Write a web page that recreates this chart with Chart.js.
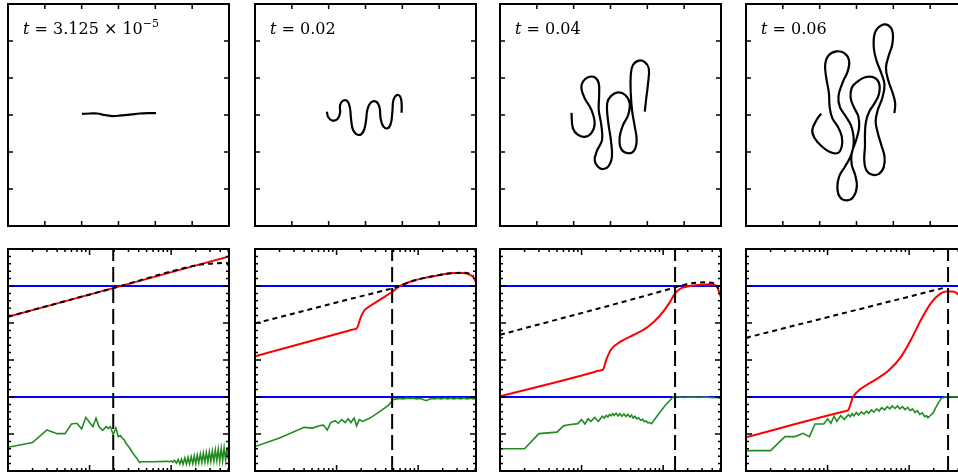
<!DOCTYPE html>
<html>
<head>
<meta charset="utf-8">
<script src="https://cdn.jsdelivr.net/npm/chart.js@4.4.0/dist/chart.umd.min.js"></script>
<style>
    body { margin: 0; width: 958px; height: 473px; overflow: hidden; background: #fff; position: relative; }
    .panel { position: absolute; }
    .lbl { position: absolute; font-family: "DejaVu Serif", serif; font-size: 16px; line-height: 16px; white-space: nowrap; color: #000; }
    .lbl sup { font-size: 11px; vertical-align: 7px; line-height: 0; }
</style>
</head>
<body>
<script>
"use strict";
// time stamps shown in the upper panels
const timeLabels = ['<i>t</i> = 3.125 × 10<sup>−5</sup>', '<i>t</i> = 0.02', '<i>t</i> = 0.04', '<i>t</i> = 0.06'];

// interface shapes (upper row), axis units 0..6
const shape1X = [2.01, 2.23, 2.42, 2.63, 2.85, 3.07, 3.31, 3.58, 3.80, 4.02];
const shape1Y = [3.03, 3.04, 3.04, 3.00, 2.97, 2.99, 3.01, 3.04, 3.05, 3.05];

const shape2X = [1.95, 1.99, 2.10, 2.24, 2.31, 2.31, 2.40, 2.52, 2.58, 2.61, 2.67, 2.81, 2.94, 3.01, 3.05, 3.14, 3.29, 3.38, 3.41, 3.48, 3.60, 3.69, 3.73, 3.76, 3.85, 3.94, 3.98, 3.98];
const shape2Y = [3.09, 2.94, 2.85, 2.89, 3.06, 3.27, 3.39, 3.36, 3.18, 2.87, 2.58, 2.46, 2.55, 2.82, 3.14, 3.33, 3.36, 3.21, 2.91, 2.70, 2.64, 2.78, 3.09, 3.41, 3.54, 3.50, 3.32, 3.06];

const shape3X = [1.94, 1.98, 2.12, 2.30, 2.48, 2.57, 2.48, 2.30, 2.21, 2.25, 2.39, 2.57, 2.68, 2.69, 2.68, 2.75, 2.77, 2.64, 2.57, 2.66,
    2.80, 2.95, 3.04, 3.01, 2.93, 2.91, 3.01, 3.20, 3.40, 3.52, 3.48, 3.34, 3.25, 3.28, 3.46, 3.64, 3.71, 3.66, 3.59, 3.55,
    3.55, 3.61, 3.77, 3.93, 4.04, 4.02, 3.97, 3.93];
const shape3Y = [3.06, 2.64, 2.46, 2.41, 2.51, 2.78, 3.14, 3.45, 3.72, 3.90, 4.02, 4.02, 3.86, 3.50, 3.14, 2.73, 2.32, 2.05, 1.78, 1.60,
    1.54, 1.62, 1.87, 2.32, 2.87, 3.32, 3.51, 3.61, 3.54, 3.32, 3.00, 2.73, 2.41, 2.10, 1.97, 2.04, 2.32, 2.68, 3.09, 3.59,
    4.08, 4.35, 4.47, 4.43, 4.26, 3.86, 3.45, 3.09];

const shape4X = [2.04, 1.92, 1.80, 1.86, 2.06, 2.28, 2.49, 2.60, 2.60, 2.49, 2.34, 2.27, 2.25, 2.18, 2.15, 2.24, 2.46, 2.67, 2.80, 2.76,
    2.62, 2.51, 2.55, 2.71, 2.85, 2.92, 2.91, 2.82, 2.69, 2.53, 2.48, 2.55, 2.73, 2.91, 3.01, 2.96, 2.87, 2.87, 2.98, 3.07,
    3.05, 2.93, 2.84, 2.87, 3.01, 3.23, 3.46, 3.61, 3.61, 3.48, 3.35, 3.26, 3.23, 3.23, 3.21, 3.26, 3.41, 3.61, 3.74, 3.76,
    3.67, 3.58, 3.52, 3.58, 3.70, 3.76, 3.67, 3.55, 3.47, 3.50, 3.67, 3.87, 3.98, 3.97, 3.87, 3.80, 3.87, 3.98, 4.05, 4.03];
const shape4Y = [3.04, 2.87, 2.60, 2.38, 2.15, 2.00, 1.97, 2.15, 2.42, 2.69, 2.92, 3.23, 3.60, 4.00, 4.36, 4.61, 4.72, 4.67, 4.47, 4.18,
    3.87, 3.51, 3.21, 2.96, 2.72, 2.42, 2.11, 1.84, 1.61, 1.34, 1.03, 0.78, 0.69, 0.78, 1.07, 1.39, 1.66, 1.97, 2.29, 2.65,
    2.96, 3.21, 3.46, 3.73, 3.89, 4.02, 4.02, 3.87, 3.57, 3.30, 3.10, 2.83, 2.51, 2.15, 1.79, 1.52, 1.39, 1.41, 1.59, 1.88,
    2.20, 2.51, 2.83, 3.14, 3.46, 3.82, 4.14, 4.45, 4.81, 5.22, 5.42, 5.42, 5.24, 4.90, 4.59, 4.27, 3.91, 3.60, 3.32, 3.05];

// spectra (lower row): wavenumber k on a log axis, values 0..6
const kRange = [1, 512];
const blueLevels = [5, 2];
const cutoffK = [19.5, 48, 140, 300];

const red1K = [1, 20, 512];
const red1 = [4.17, 4.95, 5.80];
const dash1K = [1, 20, 200, 260, 330, 420, 470, 500, 512];
const dash1 = [4.17, 4.95, 5.555, 5.59, 5.61, 5.62, 5.63, 5.58, 5.50];
const green1K = [1, 2, 3, 4, 5, 6, 7, 8, 9, 10, 11, 12, 13, 14.5, 16, 17, 18, 19.5, 21, 22.5, 24, 25, 26.5, 28, 31, 34, 38, 41, 43.5, 60, 88,
    90, 95, 100, 105, 110, 116, 122, 128, 134, 140, 147, 154, 161, 168, 176, 184, 192, 200, 209, 218, 228, 238, 248, 259, 270, 282, 294,
    307, 320, 334, 348, 363, 378, 394, 411, 428, 446, 465, 485, 500, 512];
const green1 = [0.64, 0.77, 1.11, 1.01, 1.01, 1.27, 1.29, 1.14, 1.45, 1.31, 1.20, 1.43, 1.20, 1.10, 1.20, 1.15, 1.20, 0.98, 1.16, 0.93, 0.96, 0.89, 0.85, 0.75, 0.62, 0.48, 0.34, 0.23, 0.25, 0.25, 0.26,
    0.26, 0.25, 0.27, 0.24, 0.29, 0.21, 0.31, 0.19, 0.32, 0.18, 0.35, 0.19, 0.37, 0.19, 0.39, 0.20, 0.41, 0.20, 0.43, 0.22, 0.46, 0.23, 0.48, 0.24, 0.50, 0.25, 0.52,
    0.26, 0.54, 0.27, 0.57, 0.28, 0.59, 0.27, 0.61, 0.28, 0.63, 0.29, 0.65, 0.32, 0.62];

const red2K = [1, 14, 16, 17.6, 18.5, 19.4, 21.7, 25.7, 34.1, 47.4, 60, 87, 127, 185, 270, 358, 432, 490, 512];
const red2 = [3.10, 3.79, 3.825, 3.85, 3.95, 4.10, 4.33, 4.46, 4.63, 4.83, 5.00, 5.14, 5.23, 5.30, 5.35, 5.35, 5.30, 5.20, 5.08];
const dash2K = [1, 40, 47.4, 60, 87, 127, 185, 270, 358, 432, 480];
const dash2 = [3.99, 4.89, 4.93, 5.01, 5.14, 5.23, 5.30, 5.35, 5.36, 5.33, 5.27];
const green2K = [1, 2, 4, 5, 6.3, 6.9, 7.7, 8.5, 9.6, 10.5, 11.6, 12.7, 13.9, 15, 16.4, 17.6, 19, 20.9, 25.7, 34.1,
    43.1, 49.6, 54.6, 60, 66, 72, 80, 88, 96, 105, 115, 125, 135, 148, 160, 175, 190, 210, 230, 250, 275, 300, 330, 360, 400, 440, 480, 512];
const green2 = [0.66, 0.89, 1.18, 1.16, 1.23, 1.24, 1.11, 1.31, 1.36, 1.29, 1.39, 1.31, 1.41, 1.31, 1.43, 1.22, 1.39, 1.34, 1.43, 1.61,
    1.77, 1.93, 1.95, 1.96, 1.95, 1.97, 1.96, 1.97, 1.95, 1.96, 1.93, 1.90, 1.93, 1.96, 1.95, 1.97, 1.95, 1.97, 1.95, 1.97, 1.95, 1.97, 1.95, 1.97, 1.95, 1.97, 1.95, 1.96];

const red3K = [1, 14, 16, 18.3, 20.1, 23.1, 30.7, 44.8, 65.2, 90.6, 120, 138, 160, 192, 267, 389, 449, 512];
const red3 = [2.02, 2.67, 2.71, 2.74, 3.01, 3.29, 3.51, 3.69, 3.90, 4.19, 4.55, 4.78, 4.92, 4.98, 5.03, 5.05, 5.01, 4.69];
const dash3K = [1, 120, 138, 192, 323, 428, 480];
const dash3 = [3.68, 4.92, 4.96, 5.05, 5.10, 5.07, 4.92];
const green3K = [1, 2, 3, 5, 6, 7, 9, 10, 11, 12, 13, 14.5, 16, 18, 19, 20, 21, 22, 23, 24, 25, 26.5, 28, 29.5, 31, 33, 35, 37, 39, 41,
    43, 45, 47.5, 50, 53, 56, 59, 62, 65, 68, 72, 86.5, 104, 132, 150, 180, 220, 270, 330, 400, 460, 512];
const green3 = [0.60, 0.60, 1.01, 1.05, 1.22, 1.25, 1.28, 1.39, 1.27, 1.41, 1.34, 1.45, 1.34, 1.48, 1.43, 1.50, 1.46, 1.53, 1.49, 1.55,
    1.50, 1.56, 1.49, 1.55, 1.48, 1.54, 1.47, 1.53, 1.46, 1.51, 1.43, 1.48, 1.41, 1.44, 1.37, 1.40, 1.33, 1.35, 1.30, 1.31,
    1.28, 1.52, 1.75, 2.00, 2.00, 1.99, 2.00, 1.99, 2.00, 1.98, 1.99, 1.95];

const red4K = [1, 14, 16, 17.8, 20.5, 24.8, 34.4, 55.1, 80.2, 106, 141, 187, 237, 286, 345, 397, 512];
const red4 = [0.91, 1.58, 1.61, 1.64, 2.00, 2.20, 2.40, 2.70, 3.10, 3.56, 4.10, 4.55, 4.78, 4.85, 4.85, 4.78, 4.50];
const dash4K = [1, 290];
const dash4 = [3.60, 4.97];
const green4K = [1, 2, 3, 4, 5, 6, 7, 9, 10, 11, 12, 13, 14.5, 16, 18, 19, 20, 21, 22.5, 24, 26, 28, 30, 32, 34.5, 37, 40, 43, 46, 50,
    54, 58, 62, 67, 72, 77, 83, 89, 96, 103, 110, 118, 126, 135, 145, 155, 163, 170, 182, 196, 220, 248, 299, 350, 420, 512];
const green4 = [0.55, 0.55, 0.93, 0.93, 1.02, 0.93, 1.27, 1.27, 1.41, 1.29, 1.48, 1.34, 1.50, 1.39, 1.52, 1.47, 1.55, 1.49, 1.58, 1.51,
    1.60, 1.54, 1.62, 1.56, 1.65, 1.59, 1.68, 1.62, 1.71, 1.65, 1.74, 1.68, 1.76, 1.69, 1.76, 1.68, 1.74, 1.66, 1.72, 1.63,
    1.68, 1.58, 1.63, 1.53, 1.57, 1.47, 1.50, 1.44, 1.50, 1.57, 1.78, 1.97, 2.02, 2.00, 2.01, 2.00];

// tick marks
const shapeTicks = [1, 2, 3, 4, 5];
const kMajorTicks = [10, 100];
const kMinorTicks = [2, 3, 4, 5, 6, 7, 8, 9, 20, 30, 40, 50, 60, 70, 80, 90, 200, 300, 400, 500];
const yMajorTicks = [1, 2, 3, 4, 5];
const yMinorTicks = [0.2, 0.4, 0.6, 0.8, 1.2, 1.4, 1.6, 1.8, 2.2, 2.4, 2.6, 2.8, 3.2, 3.4, 3.6, 3.8, 4.2, 4.4, 4.6, 4.8, 5.2, 5.4, 5.6, 5.8];

// layout
const colLeft = [8, 255, 500, 746];
const rowTop = [4, 249];
const frameW = 221, frameH = 222, pad = 3;

const framePlugin = {
    id: 'frame',
    afterDatasetsDraw(chart, args, opts) {
        const ctx = chart.ctx;
        const a = chart.chartArea;
        const xs = chart.scales.x, ys = chart.scales.y;
        ctx.save();
        ctx.strokeStyle = '#000';
        ctx.lineWidth = 1.5;
        ctx.beginPath();
        const xTicks = (vals, len) => vals.forEach(v => {
            const p = xs.getPixelForValue(v);
            ctx.moveTo(p, a.top); ctx.lineTo(p, a.top + len);
            ctx.moveTo(p, a.bottom); ctx.lineTo(p, a.bottom - len);
        });
        const yTicks = (vals, len) => vals.forEach(v => {
            const p = ys.getPixelForValue(v);
            ctx.moveTo(a.left, p); ctx.lineTo(a.left + len, p);
            ctx.moveTo(a.right, p); ctx.lineTo(a.right - len, p);
        });
        xTicks(opts.xMajor, opts.majorLen);
        xTicks(opts.xMinor, opts.minorLen);
        yTicks(opts.yMajor, opts.majorLen);
        yTicks(opts.yMinor, opts.minorLen);
        ctx.stroke();
        ctx.lineWidth = 2;
        ctx.strokeRect(a.left, a.top, a.right - a.left, a.bottom - a.top);
        ctx.restore();
    }
};

function series(xs, ys, color, width, dash, tension, mode) {
    return {
        data: xs.map((x, i) => ({ x: x, y: ys[i] })),
        showLine: true,
        borderColor: color,
        borderWidth: width,
        borderDash: dash || [],
        pointRadius: 0,
        tension: tension || 0,
        cubicInterpolationMode: mode || 'default',
        fill: false
    };
}

function makePanel(left, top, xScale, datasets, frame) {
    const div = document.createElement('div');
    div.className = 'panel';
    div.style.left = (left - pad) + 'px';
    div.style.top = (top - pad) + 'px';
    const canvas = document.createElement('canvas');
    canvas.width = frameW + 2 * pad;
    canvas.height = frameH + 2 * pad;
    div.appendChild(canvas);
    document.body.appendChild(div);
    return new Chart(canvas, {
        type: 'scatter',
        data: { datasets: datasets },
        options: {
            responsive: false,
            animation: false,
            devicePixelRatio: 1,
            layout: { padding: pad },
            scales: {
                x: xScale,
                y: { type: 'linear', min: 0, max: 6, display: false }
            },
            plugins: { legend: { display: false }, tooltip: { enabled: false }, frame: frame }
        },
        plugins: [framePlugin]
    });
}

const shapes = [[shape1X, shape1Y], [shape2X, shape2Y], [shape3X, shape3Y], [shape4X, shape4Y]];
const spectra = [
    { redK: red1K, red: red1, dashK: dash1K, dash: dash1, greenK: green1K, green: green1 },
    { redK: red2K, red: red2, dashK: dash2K, dash: dash2, greenK: green2K, green: green2 },
    { redK: red3K, red: red3, dashK: dash3K, dash: dash3, greenK: green3K, green: green3 },
    { redK: red4K, red: red4, dashK: dash4K, dash: dash4, greenK: green4K, green: green4 }
];

shapes.forEach((s, i) => {
    makePanel(colLeft[i], rowTop[0],
        { type: 'linear', min: 0, max: 6, display: false },
        [series(s[0], s[1], '#000', 2.2, null, 0.4)],
        { xMajor: shapeTicks, xMinor: [], yMajor: shapeTicks, yMinor: [], majorLen: 5, minorLen: 0 });

    const lbl = document.createElement('div');
    lbl.className = 'lbl';
    lbl.style.left = (colLeft[i] + 15) + 'px';
    lbl.style.top = '21px';
    lbl.innerHTML = timeLabels[i];
    document.body.appendChild(lbl);
});

spectra.forEach((s, i) => {
    const cut = cutoffK[i];
    makePanel(colLeft[i], rowTop[1],
        { type: 'logarithmic', min: kRange[0], max: kRange[1], display: false },
        [
            series([cut, cut], [0, 6], '#000', 2, [15, 6]),
            series(s.dashK, s.dash, '#000', 2, [5, 4], 0.4, 'monotone'),
            series(s.redK, s.red, '#ff0000', 2, null, 0.4, 'monotone'),
            series(s.greenK, s.green, '#228b22', 1.6),
            series(kRange, [blueLevels[0], blueLevels[0]], '#0000ff', 2),
            series(kRange, [blueLevels[1], blueLevels[1]], '#0000ff', 2)
        ],
        { xMajor: kMajorTicks, xMinor: kMinorTicks, yMajor: yMajorTicks, yMinor: yMinorTicks, majorLen: 6, minorLen: 3 });
});
</script>
</body>
</html>
